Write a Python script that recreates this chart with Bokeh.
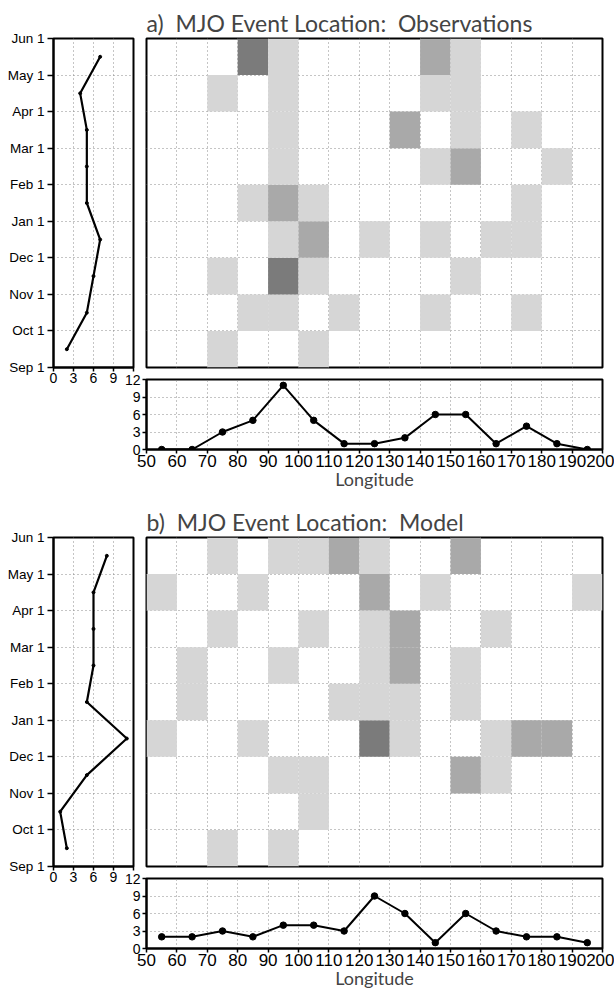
from bokeh.plotting import figure
from bokeh.models import ColumnDataSource, FixedTicker, Label, Range1d, LinearColorMapper
from bokeh.transform import transform
from bokeh.layouts import column, row
from bokeh.embed import file_html
from bokeh.resources import INLINE

# ---------------- data ----------------
month_labels = ["Sep 1", "Oct 1", "Nov 1", "Dec 1", "Jan 1", "Feb 1", "Mar 1", "Apr 1", "May 1", "Jun 1"]
month_mid = [0.5, 1.5, 2.5, 3.5, 4.5, 5.5, 6.5, 7.5, 8.5]
lon_centers = [55, 65, 75, 85, 95, 105, 115, 125, 135, 145, 155, 165, 175, 185, 195]
lon_ticks = [50, 60, 70, 80, 90, 100, 110, 120, 130, 140, 150, 160, 170, 180, 190, 200]
count_ticks = [0, 3, 6, 9, 12]

# rows: Sep..May ; columns: 50-60 ... 190-200
obs_grid = [
    [0, 0, 1, 0, 0, 1, 0, 0, 0, 0, 0, 0, 0, 0, 0],  # Sep
    [0, 0, 0, 1, 1, 0, 1, 0, 0, 1, 0, 0, 1, 0, 0],  # Oct
    [0, 0, 1, 0, 3, 1, 0, 0, 0, 0, 1, 0, 0, 0, 0],  # Nov
    [0, 0, 0, 0, 1, 2, 0, 1, 0, 1, 0, 1, 1, 0, 0],  # Dec
    [0, 0, 0, 1, 2, 1, 0, 0, 0, 0, 0, 0, 1, 0, 0],  # Jan
    [0, 0, 0, 0, 1, 0, 0, 0, 0, 1, 2, 0, 0, 1, 0],  # Feb
    [0, 0, 0, 0, 1, 0, 0, 0, 2, 0, 1, 0, 1, 0, 0],  # Mar
    [0, 0, 1, 0, 1, 0, 0, 0, 0, 1, 1, 0, 0, 0, 0],  # Apr
    [0, 0, 0, 3, 1, 0, 0, 0, 0, 2, 1, 0, 0, 0, 0],  # May
]
obs_by_month = [2, 5, 6, 7, 5, 5, 5, 4, 7]
obs_by_lon = [0, 0, 3, 5, 11, 5, 1, 1, 2, 6, 6, 1, 4, 1, 0]

mod_grid = [
    [0, 0, 1, 0, 1, 0, 0, 0, 0, 0, 0, 0, 0, 0, 0],  # Sep
    [0, 0, 0, 0, 0, 1, 0, 0, 0, 0, 0, 0, 0, 0, 0],  # Oct
    [0, 0, 0, 0, 1, 1, 0, 0, 0, 0, 2, 1, 0, 0, 0],  # Nov
    [1, 0, 0, 1, 0, 0, 0, 3, 1, 0, 0, 1, 2, 2, 0],  # Dec
    [0, 1, 0, 0, 0, 0, 1, 1, 1, 0, 1, 0, 0, 0, 0],  # Jan
    [0, 1, 0, 0, 1, 0, 0, 1, 2, 0, 1, 0, 0, 0, 0],  # Feb
    [0, 0, 1, 0, 0, 1, 0, 1, 2, 0, 0, 1, 0, 0, 0],  # Mar
    [1, 0, 0, 1, 0, 0, 0, 2, 0, 1, 0, 0, 0, 0, 1],  # Apr
    [0, 0, 1, 0, 1, 1, 2, 1, 0, 0, 2, 0, 0, 0, 0],  # May
]
mod_by_month = [2, 1, 5, 11, 5, 6, 6, 6, 8]
mod_by_lon = [2, 2, 3, 2, 4, 4, 3, 9, 6, 1, 6, 3, 2, 2, 1]

# ---------------- style ----------------
TICK_FONT = "Liberation Sans"
TEXT_FONT = "Lato"
GRID_COLOR = "#8a8a8a"
SHADES = ["#d6d6d6", "#a9a9a9", "#7b7b7b"]


def style_fig(p):
    p.outline_line_color = "black"
    p.outline_line_width = 2
    p.outline_line_alpha = 1
    p.background_fill_color = "white"
    for g in p.grid:
        g.grid_line_color = GRID_COLOR
        g.grid_line_dash = "1 3"
        g.grid_line_width = 1
    for ax in p.axis:
        ax.axis_line_width = 2
        ax.axis_line_color = "black"
        ax.major_tick_line_width = 1.5
        ax.major_tick_in = 0
        ax.major_tick_out = 5
        ax.minor_tick_line_color = None
        ax.major_label_text_font = TICK_FONT
        ax.major_label_text_color = "black"
        ax.major_label_standoff = 3


def make_panel(title, grid, by_month, by_lon, bottom_border):
    # ---- left: events per month ----
    L = figure(frame_width=80, frame_height=329, x_range=Range1d(0, 12), y_range=Range1d(0, 9),
               output_backend="svg", toolbar_location=None,
               min_border_left=53, min_border_right=7, min_border_top=38, min_border_bottom=25)
    L.xaxis.ticker = FixedTicker(ticks=count_ticks)
    L.yaxis.ticker = FixedTicker(ticks=list(range(10)))
    L.xgrid.ticker = FixedTicker(ticks=count_ticks)
    L.ygrid.ticker = FixedTicker(ticks=list(range(10)))
    style_fig(L)
    L.xaxis.major_label_overrides = {12: ""}
    L.yaxis.major_label_overrides = {i: s for i, s in enumerate(month_labels)}
    L.xaxis.major_label_text_font_size = "14px"
    L.yaxis.major_label_text_font_size = "13.5px"
    L.xaxis.major_tick_out = 4
    L.xaxis.major_label_standoff = 1
    L.yaxis.major_tick_out = 6
    src_m = ColumnDataSource(dict(n=by_month, m=month_mid))
    L.line("n", "m", source=src_m, line_color="black", line_width=2.2)
    L.scatter("n", "m", source=src_m, size=3, color="black")

    # ---- heatmap ----
    H = figure(frame_width=456, frame_height=329, x_range=Range1d(50, 200), y_range=L.y_range,
               output_backend="svg", toolbar_location=None,
               x_axis_location=None, y_axis_location=None,
               min_border_left=6, min_border_right=12, min_border_top=38, min_border_bottom=25)
    H.xgrid.ticker = FixedTicker(ticks=lon_ticks)
    H.ygrid.ticker = FixedTicker(ticks=list(range(10)))
    style_fig(H)
    xs, ys, cs = [], [], []
    for mi, rowvals in enumerate(grid):
        for li, c in enumerate(rowvals):
            if c > 0:
                xs.append(lon_centers[li])
                ys.append(month_mid[mi])
                cs.append(c)
    mapper = LinearColorMapper(palette=SHADES, low=0.5, high=3.5)
    H.rect("x", "y", width=10, height=1, source=ColumnDataSource(dict(x=xs, y=ys, c=cs)),
           fill_color=transform("c", mapper), line_color=None)
    H.title.text = title
    H.title.align = "left"
    H.title.text_font = TEXT_FONT
    H.title.text_font_size = "23px"
    H.title.text_font_style = "normal"
    H.title.standoff = 4
    H.title.offset = 0

    # ---- bottom: events per longitude ----
    B = figure(frame_width=456, frame_height=70, x_range=H.x_range, y_range=Range1d(0, 12),
               output_backend="svg", toolbar_location=None,
               min_border_left=146, min_border_right=12, min_border_top=7,
               min_border_bottom=bottom_border, margin=(-20, 0, 0, 0))
    B.border_fill_color = None
    B.xaxis.ticker = FixedTicker(ticks=lon_ticks)
    B.yaxis.ticker = FixedTicker(ticks=count_ticks)
    B.xgrid.ticker = FixedTicker(ticks=lon_ticks)
    B.ygrid.ticker = FixedTicker(ticks=count_ticks)
    style_fig(B)
    B.xaxis.major_label_text_font_size = "17px"
    B.yaxis.major_label_text_font_size = "14px"
    B.xaxis.major_tick_out = 4
    B.yaxis.major_tick_out = 4
    B.xaxis.major_label_standoff = 1
    B.yaxis.major_label_standoff = 2
    B.xaxis.axis_label = "Longitude"
    B.xaxis.axis_label_text_font = TEXT_FONT
    B.xaxis.axis_label_text_font_size = "18px"
    B.xaxis.axis_label_text_font_style = "normal"
    B.xaxis.axis_label_standoff = -2
    src_l = ColumnDataSource(dict(lon=lon_centers, n=by_lon))
    B.line("lon", "n", source=src_l, line_color="black", line_width=2)
    B.scatter("lon", "n", source=src_l, size=6.5, color="black")
    for txt, yy in (("Number", 8.2), ("of", 6.0), ("Events", 3.6)):
        B.add_layout(Label(x=33.2, y=yy, text=txt, text_align="center", text_baseline="middle",
                           text_font=TEXT_FONT, text_font_size="16px", text_color="black"))

    return column(row(L, H), B)


panel_a = make_panel("a)\u00a0 MJO Event Location:\u00a0 Observations", obs_grid, obs_by_month, obs_by_lon, 50)
panel_b = make_panel("b)\u00a0 MJO Event Location:\u00a0 Model", mod_grid, mod_by_month, mod_by_lon, 42)
page = column(panel_a, panel_b)

open("out.html", "w").write(file_html(page, INLINE))
